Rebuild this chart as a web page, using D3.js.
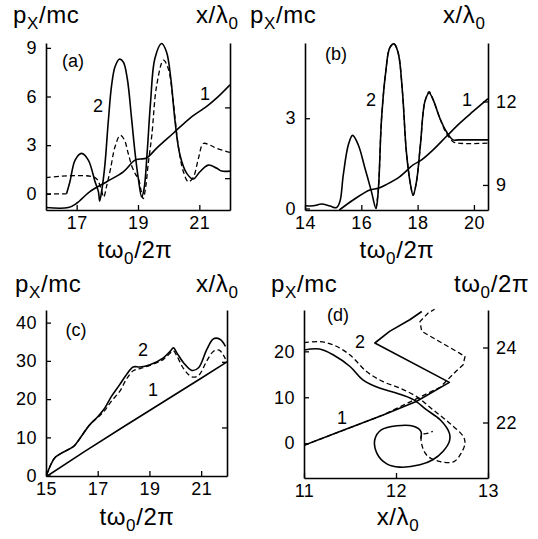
<!DOCTYPE html>
<html><head><meta charset="utf-8">
<script src="https://cdn.jsdelivr.net/npm/d3@7"></script>
<style>
body{margin:0;background:#fff}
svg{display:block}
text{font-family:"Liberation Sans",Arial,Helvetica,sans-serif;fill:#000}
</style>
</head><body>
<svg id="c" width="538" height="539"></svg>
<script>
// ---------- DATA ----------
// Panel (a): t ω0/2π vs px/mc (left) and x/λ0 (right)
const a_xTicks = [17, 19, 21];
const a_yTicks = [0, 3, 6, 9];
const a_rTicks = [8, 10];
const a_base0 = [[16, 0], [16.67, 0]];
const a_sol2 = [[16.67,0.0],[16.78,0.74],[16.95,2.08],[17.16,2.49],[17.38,2.08],[17.6,0.74],[17.71,0.12],[17.75,-0.45],[17.82,0.23],[17.92,1.77],[18.03,4.44],[18.14,6.7],[18.25,7.83],[18.39,8.3],[18.52,8.13],[18.65,7.11],[18.79,4.65],[18.9,2.59],[19.01,0.95],[19.12,-0.2],[19.2,0.33],[19.3,2.59],[19.41,5.67],[19.55,8.34],[19.77,9.27],[19.93,8.75],[20.07,7.11],[20.21,4.44],[20.37,2.38],[20.59,1.26],[20.8,0.91],[21.02,1.36],[21.29,1.77],[21.57,1.57],[21.73,1.4],[22,1.4]];
const a_dash2 = [[16,1],[17.6,1],[17.78,0.4],[17.88,-0.2],[17.98,0.5],[18.1,1.5],[18.25,2.9],[18.42,3.6],[18.55,3.35],[18.68,2.5],[18.8,1.7],[18.92,1.2],[19.02,0.9],[19.1,0.2],[19.17,-0.3],[19.25,0.4],[19.33,1.8],[19.45,3.6],[19.61,6.7],[19.83,8.24],[19.99,7.7],[20.15,5.67],[20.31,3.0],[20.48,1.36],[20.64,0.74],[20.8,1.0],[20.97,2.18],[21.13,3.1],[21.35,3.0],[21.57,2.8],[22,2.55]];
const a_sol1 = [[16,7.17],[16.73,7.17],[17.0,7.29],[17.43,7.62],[17.98,7.9],[18.52,8.18],[18.9,8.51],[19.07,8.54],[19.28,8.57],[19.61,8.85],[20.15,9.27],[20.7,9.7],[21.24,10.03],[21.57,10.27],[22,10.64]];

// Panel (b)
const b_xTicks = [14, 16, 18, 20];
const b_yTicks = [0, 3];
const b_rTicks = [9, 12];
const b_sol2 = [[14,0.09],[14.3,0.09],[14.59,0.15],[14.89,0.08],[15.12,0.03],[15.24,0.23],[15.36,1.12],[15.54,2.12],[15.69,2.43],[15.89,2.12],[16.13,1.34],[16.36,0.56],[16.52,0.0],[16.6,0.56],[16.72,3.0],[16.87,4.56],[17.01,5.34],[17.16,5.47],[17.31,5.17],[17.46,3.89],[17.6,1.89],[17.75,0.78],[17.84,0.44],[17.96,0.89],[18.1,2.12],[18.26,3.56],[18.41,3.84],[18.55,3.62],[18.79,3.0],[19.02,2.56],[19.26,2.28],[19.44,2.28],[20.5,2.28]];
const b_dash2 = [[16.52,0.0],[16.6,0.56],[16.72,3.0],[16.87,4.56],[17.01,5.34],[17.16,5.47],[17.31,5.17],[17.46,3.89],[17.6,1.89],[17.75,0.78],[17.84,0.44],[17.96,0.89],[18.1,2.12],[18.26,3.56],[18.41,3.88],[18.55,3.62],[18.79,3.0],[19.02,2.5],[19.26,2.22],[19.44,2.17],[20.5,2.17]];
const b_sol1 = [[15.22,8.1],[15.71,8.46],[16.3,8.82],[16.6,8.88],[16.9,9.02],[17.37,9.3],[17.84,9.72],[18.14,9.9],[18.55,10.26],[19.02,10.74],[19.5,11.22],[19.97,11.64],[20.5,12.1]];

// Panel (c)
const c_xTicks = [15, 17, 19, 21];
const c_yTicks = [0, 10, 20, 30, 40];
const c_rTicks = [10, 12];
const c_sol2 = [[15.02,0.1],[15.32,4.5],[15.58,5.8],[16.04,7.5],[16.17,8.4],[16.68,13.2],[17.0,15.4],[17.27,17.6],[17.53,20.7],[17.85,23.8],[18.11,26.4],[18.37,28.4],[18.63,28.4],[19.02,29.0],[19.54,30.8],[19.8,32.5],[19.93,33.4],[20.06,32.1],[20.32,29.5],[20.64,27.5],[20.9,28.2],[21.22,33.0],[21.48,35.8],[21.74,35.6],[21.94,33.8]];
const c_dash2 = [[15.02,0.1],[15.32,4.5],[15.58,5.8],[16.04,7.5],[16.17,8.4],[16.68,13.2],[17.0,15.2],[17.27,17.0],[17.53,19.5],[17.85,22.0],[18.11,25.2],[18.37,27.4],[18.63,28.0],[19.02,28.8],[19.54,30.4],[19.8,32.0],[19.93,32.6],[20.06,31.3],[20.32,28.0],[20.64,25.8],[20.9,26.2],[21.22,30.0],[21.48,32.5],[21.7,32.8],[21.94,30.5]];
const c_sol1 = [[15.05,8.52],[16.5,9.27],[18,10.02],[19.5,10.76],[21,11.5],[22,12.0]];

// Panel (d): x/λ0 vs px/mc (left) and tω0/2π (right)
const d_xTicks = [11, 12, 13];
const d_yTicks = [0, 10, 20];
const d_rTicks = [22, 24];
const d_sol2 = [[11.0,20.3],[11.17,20.5],[11.32,19.2],[11.5,16.7],[11.64,13.8],[11.82,12.0],[12.01,10.9],[12.19,9.5],[12.33,7.3],[12.48,5.1],[12.58,2.2],[12.58,0.4],[12.51,-1.8],[12.4,-3.6],[12.26,-4.7],[12.04,-5.2],[11.9,-4.5],[11.79,-2.1],[11.77,0.8],[11.84,2.9],[12.01,3.8],[12.19,3.7],[12.27,2.6],[12.27,1.0]];
const d_dash2 = [[11.0,21.9],[11.17,22.1],[11.32,21.4],[11.5,19.2],[11.68,15.6],[11.86,13.4],[12.04,12.0],[12.22,10.2],[12.4,7.3],[12.58,4.4],[12.73,1.5],[12.75,0.0],[12.71,-2.1],[12.63,-4.0],[12.48,-4.0],[12.35,-2.9],[12.29,-1.0],[12.28,1.8],[12.35,2.2],[12.4,2.6]];
const d_sol1 = [[11.0,21.39],[11.39,21.76],[11.86,22.2],[12.22,22.56],[12.58,23.07],[11.77,24.12],[11.93,24.43],[12.15,24.74],[12.28,24.96]];
const d_dash1 = [[11.0,21.39],[11.86,22.2],[12.48,22.94],[12.65,23.36],[12.73,23.54],[12.75,23.76],[12.69,23.85],[12.28,24.43],[12.26,24.69],[12.35,24.92],[12.42,25.02]];

// ---------- DRAWING ----------
const svg = d3.select('#c');
const TICKF = 18, TITLEF = 24, SUBF = 17;

function sub(g, x, y, parts, anchor) {
  const t = g.append('text').attr('x', x).attr('y', y).attr('font-size', TITLEF)
    .attr('letter-spacing', 0.6).attr('text-anchor', anchor || 'start');
  parts.forEach(p => {
    const s = t.append('tspan').text(p[0]);
    if (p[1] === 'sub') s.attr('font-size', SUBF).attr('dy', 6);
    else if (p[1] === 'up') s.attr('dy', -6);
  });
  return t;
}
const PX = [['p'], ['X','sub'], ['/mc','up']];
const XL = [['x/λ'], ['0','sub']];
const TW = [['tω'], ['0','sub'], ['/2π','up']];

let clipId = 0;
function panel(cfg) {
  const g = svg.append('g');
  const x = d3.scaleLinear().domain(cfg.xd).range([cfg.l, cfg.r]);
  const yl = d3.scaleLinear().domain(cfg.yld).range([cfg.b, cfg.t]);
  const yr = d3.scaleLinear().domain(cfg.yrd).range([cfg.b, cfg.t]);

  const id = 'clip' + (clipId++);
  g.append('clipPath').attr('id', id).append('rect')
    .attr('x', cfg.l).attr('y', cfg.t - 2).attr('width', cfg.r - cfg.l).attr('height', cfg.b - cfg.t + 2);

  const ax = g.append('g').attr('transform', `translate(0,${cfg.b})`)
    .call(d3.axisBottom(x).tickValues(cfg.xt).tickSizeInner(-5).tickSizeOuter(0).tickPadding(6).tickFormat(d3.format('d')));
  const ay = g.append('g').attr('transform', `translate(${cfg.l},0)`)
    .call(d3.axisLeft(yl).tickValues(cfg.yt).tickSizeInner(-5).tickSizeOuter(0).tickPadding(9).tickFormat(d3.format('d')));
  const ar = g.append('g').attr('transform', `translate(${cfg.r},0)`)
    .call(d3.axisRight(yr).tickValues(cfg.rt).tickSizeInner(-5).tickSizeOuter(0).tickPadding(8)
      .tickFormat(cfg.rLabels ? d3.format('d') : () => ''));
  [ax, ay, ar].forEach(a => {
    a.selectAll('path').attr('stroke', '#000').attr('stroke-width', 1.6);
    a.selectAll('line').attr('stroke', '#000').attr('stroke-width', 1.3);
    a.selectAll('text').attr('font-size', TICKF).attr('letter-spacing', 0.5)
      .attr('font-family', '"Liberation Sans",Arial,sans-serif').attr('fill', '#000');
  });

  const cg = g.append('g').attr('clip-path', `url(#${id})`);
  cfg.series.forEach(s => {
    const ys = s.axis === 'r' ? yr : yl;
    const line = d3.line().x(d => x(d[0])).y(d => ys(d[1]))
      .curve(s.linear ? d3.curveLinear : d3.curveCatmullRom.alpha(0.5));
    cg.append('path').datum(s.data).attr('d', line)
      .attr('fill', 'none').attr('stroke', '#000')
      .attr('stroke-width', s.dash ? 1.3 : 1.6)
      .attr('stroke-dasharray', s.dash || null)
      .attr('stroke-linejoin', 'round');
  });

  cfg.labels.forEach(l => {
    g.append('text').attr('x', l[1]).attr('y', l[2]).attr('font-size', TICKF).attr('text-anchor', 'middle').text(l[0]);
  });
  return {x, yl, yr};
}

// Panel (a)
panel({l:46, r:230, t:43, b:210, xd:[16,22], yld:[-1.0,9.3], yrd:[7.1,11.82],
  xt:a_xTicks, yt:a_yTicks, rt:a_rTicks, rLabels:false,
  series:[
    {data:a_base0, dash:'5,3', linear:true},
    {data:a_dash2, dash:'5,3'},
    {data:a_sol2},
    {data:a_sol1, axis:'r'}
  ],
  labels:[['(a)',73,67],['2',98,112],['1',205,100]]});

// Panel (b)
panel({l:305, r:488, t:43, b:210, xd:[14,20.5], yld:[-0.05,5.5], yrd:[8.1,14.1],
  xt:b_xTicks, yt:b_yTicks, rt:b_rTicks, rLabels:true,
  series:[
    {data:b_dash2, dash:'5,3'},
    {data:b_sol2},
    {data:b_sol1, axis:'r'}
  ],
  labels:[['(b)',336,60],['2',371,106],['1',467,106]]});

// Panel (c)
panel({l:46, r:227, t:310, b:476, xd:[15,22], yld:[-0.1,43.3], yrd:[8.52,13.58],
  xt:c_xTicks, yt:c_yTicks, rt:c_rTicks, rLabels:false,
  series:[
    {data:c_dash2, dash:'5,3'},
    {data:c_sol2},
    {data:c_sol1, axis:'r', linear:true}
  ],
  labels:[['(c)',76,336],['2',143,356],['1',153,396]]});

// Panel (d)
panel({l:304, r:488, t:310, b:478, xd:[11,13], yld:[-7.57,29.0], yrd:[20.52,25.0],
  xt:d_xTicks, yt:d_yTicks, rt:d_rTicks, rLabels:true,
  series:[
    {data:d_dash2, dash:'5,3'},
    {data:d_sol2},
    {data:d_dash1, axis:'r', dash:'5,3', linear:true},
    {data:d_sol1, axis:'r', linear:true}
  ],
  labels:[['(d)',338,321],['2',360,348],['1',342,424]]});

// Axis titles
const tg = svg.append('g');
sub(tg, 13, 23, PX);
sub(tg, 196, 23, XL);
sub(tg, 250, 23, PX);
sub(tg, 443, 23, XL);
sub(tg, 15, 292, PX);
sub(tg, 196, 292, XL);
sub(tg, 271, 292, PX);
sub(tg, 454, 292, TW);
sub(tg, 135, 258, TW, 'middle');
sub(tg, 397, 258, TW, 'middle');
sub(tg, 137, 525, TW, 'middle');
sub(tg, 398, 525, XL, 'middle');
</script>
</body></html>
